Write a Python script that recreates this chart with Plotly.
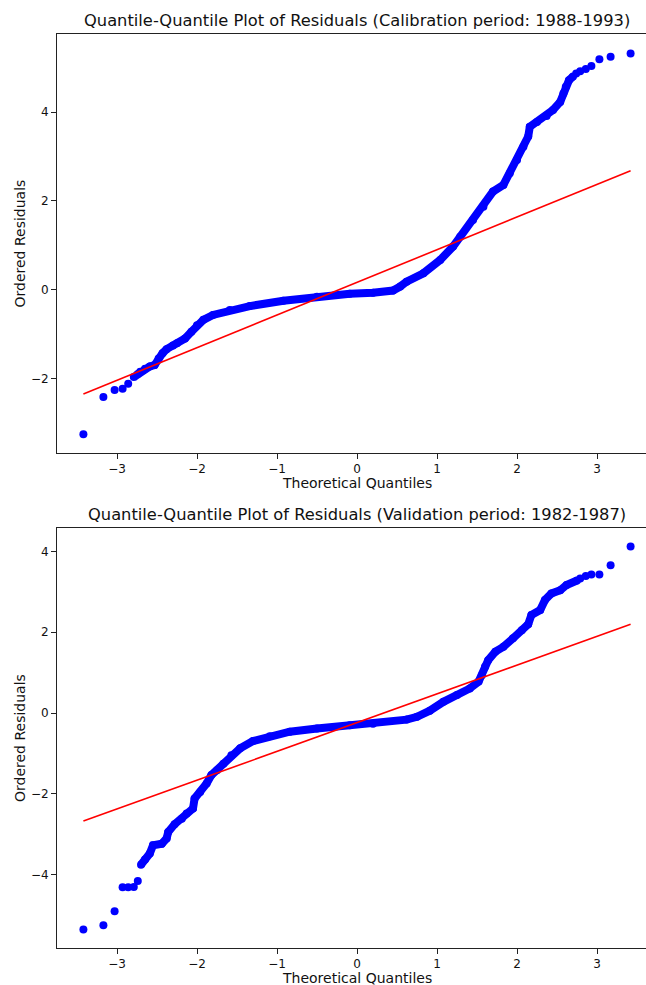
import plotly.graph_objects as go

# ---------------- data ----------------
cal_title = "Quantile-Quantile Plot of Residuals (Calibration period: 1988-1993)"
val_title = "Quantile-Quantile Plot of Residuals (Validation period: 1982-1987)"
x_label = "Theoretical Quantiles"
y_label = "Ordered Residuals"

# Calibration period
cal_tail_low_x = [-3.42, -3.17, -3.03, -2.93, -2.86]
cal_tail_low_y = [-3.26, -2.42, -2.26, -2.23, -2.12]
cal_core_x = [-2.79, -2.74, -2.71, -2.65, -2.59, -2.53, -2.48, -2.43, -2.38, -2.30,
              -2.25, -2.15, -2.07, -2.00, -1.92, -1.80, -1.59, -1.34, -0.92, -0.50,
              -0.09, 0.20, 0.45, 0.54, 0.62, 0.83, 1.04, 1.20, 1.29, 1.45,
              1.58, 1.70, 1.83, 1.91, 2.00, 2.08, 2.14, 2.16, 2.25, 2.37,
              2.45, 2.54, 2.58, 2.61, 2.65, 2.70]
cal_core_y = [-1.97, -1.90, -1.85, -1.78, -1.73, -1.70, -1.55, -1.43, -1.34, -1.26,
              -1.21, -1.10, -0.95, -0.80, -0.68, -0.57, -0.46, -0.37, -0.25, -0.16,
              -0.09, -0.07, -0.02, 0.07, 0.18, 0.37, 0.67, 0.97, 1.19, 1.57,
              1.87, 2.21, 2.36, 2.62, 2.92, 3.22, 3.45, 3.67, 3.78, 3.91,
              4.05, 4.23, 4.42, 4.57, 4.72, 4.80]
cal_tail_high_x = [2.74, 2.79, 2.86, 2.93, 3.03, 3.17, 3.42]
cal_tail_high_y = [4.87, 4.92, 4.97, 5.04, 5.19, 5.25, 5.32]
cal_fit_x = [-3.42, 3.42]
cal_fit_y = [-2.35, 2.68]

# Validation period
val_tail_low_x = [-3.42, -3.17, -3.03, -2.93, -2.86, -2.79, -2.74]
val_tail_low_y = [-5.35, -5.25, -4.90, -4.31, -4.31, -4.30, -4.15]
val_core_x = [-2.70, -2.65, -2.59, -2.55, -2.44, -2.38, -2.36, -2.28, -2.19, -2.13,
              -2.05, -2.03, -1.96, -1.88, -1.82, -1.75, -1.67, -1.57, -1.46, -1.30,
              -1.09, -0.84, -0.50, -0.09, 0.20, 0.62, 0.75, 0.91, 1.08, 1.25,
              1.41, 1.52, 1.56, 1.60, 1.64, 1.73, 1.83, 1.95, 2.06, 2.14,
              2.18, 2.29, 2.35, 2.43, 2.54, 2.62, 2.75]
val_core_y = [-3.75, -3.62, -3.47, -3.27, -3.23, -3.10, -2.94, -2.75, -2.61, -2.48,
              -2.36, -2.11, -1.95, -1.74, -1.53, -1.41, -1.25, -1.04, -0.87, -0.69,
              -0.57, -0.46, -0.38, -0.30, -0.26, -0.16, -0.09, 0.06, 0.28, 0.45,
              0.61, 0.78, 0.94, 1.15, 1.31, 1.52, 1.64, 1.85, 2.05, 2.20,
              2.43, 2.55, 2.80, 2.96, 3.04, 3.17, 3.28]
val_tail_high_x = [2.79, 2.86, 2.93, 3.03, 3.17, 3.42]
val_tail_high_y = [3.33, 3.39, 3.43, 3.43, 3.66, 4.12]
val_fit_x = [-3.42, 3.42]
val_fit_y = [-2.67, 2.20]

x_ticks = [-3, -2, -1, 0, 1, 2, 3]
cal_y_ticks = [-2, 0, 2, 4]
val_y_ticks = [-4, -2, 0, 2, 4]

# ---------------- styles ----------------
BLUE = "#0000ff"
RED = "#ff0000"
MS = 8
FONT = "DejaVu Sans"
TXT = "#111111"

fig = go.Figure()


def add_panel(tl_x, tl_y, core_x, core_y, th_x, th_y, fx, fy, xa, ya):
    fig.add_trace(go.Scatter(x=core_x, y=core_y, mode="lines+markers",
                             line=dict(color=BLUE, width=8),
                             marker=dict(color=BLUE, size=MS),
                             xaxis=xa, yaxis=ya, showlegend=False, hoverinfo="skip"))
    fig.add_trace(go.Scatter(x=tl_x + th_x, y=tl_y + th_y, mode="markers",
                             marker=dict(color=BLUE, size=MS),
                             xaxis=xa, yaxis=ya, showlegend=False, hoverinfo="skip"))
    fig.add_trace(go.Scatter(x=fx, y=fy, mode="lines",
                             line=dict(color=RED, width=1.6),
                             xaxis=xa, yaxis=ya, showlegend=False, hoverinfo="skip"))


add_panel(cal_tail_low_x, cal_tail_low_y, cal_core_x, cal_core_y,
          cal_tail_high_x, cal_tail_high_y, cal_fit_x, cal_fit_y, "x", "y")
add_panel(val_tail_low_x, val_tail_low_y, val_core_x, val_core_y,
          val_tail_high_x, val_tail_high_y, val_fit_x, val_fit_y, "x2", "y2")

W, H = 646, 985
ML, MR, MT, MB = 57, 0, 34, 37
ph = H - MT - MB


def frac(py):
    return (H - MB - py) / ph


top_dom = [frac(453), frac(34)]
bot_dom = [frac(948), frac(528)]

x_range = [-3.75, 3.6125]

axis_common = dict(showgrid=False, zeroline=False, showline=True, linecolor="#222222",
                   linewidth=1, ticks="outside", ticklen=5, tickwidth=1,
                   tickcolor="#222222", tickfont=dict(family=FONT, size=12, color=TXT))

fig.update_layout(
    width=W, height=H,
    margin=dict(l=ML, r=MR, t=MT, b=MB),
    paper_bgcolor="white", plot_bgcolor="white",
    xaxis=dict(domain=[0, 1], anchor="y", range=x_range, tickvals=x_ticks,
               mirror=True, **axis_common),
    yaxis=dict(domain=top_dom, anchor="x", range=[-3.68, 5.76], tickvals=cal_y_ticks,
               **axis_common),
    xaxis2=dict(domain=[0, 1], anchor="y2", range=x_range, tickvals=x_ticks,
                mirror=True, **axis_common),
    yaxis2=dict(domain=bot_dom, anchor="x2", range=[-5.81, 4.58], tickvals=val_y_ticks,
                **axis_common),
)

ann = []
for title, xref, dom in [(cal_title, "x", top_dom), (val_title, "x2", bot_dom)]:
    ann.append(dict(text=title, x=0, xref=xref, y=dom[1], yref="paper",
                    xanchor="center", yanchor="bottom", yshift=2, showarrow=False,
                    font=dict(family=FONT, size=16.3, color=TXT)))
    ann.append(dict(text=x_label, x=0, xref=xref, y=dom[0], yref="paper",
                    xanchor="center", yanchor="middle", yshift=-30, showarrow=False,
                    font=dict(family=FONT, size=14, color=TXT)))
    ann.append(dict(text=y_label, x=0, xref="paper", y=(dom[0] + dom[1]) / 2,
                    yref="paper", xanchor="center", yanchor="middle", xshift=-37,
                    textangle=-90, showarrow=False,
                    font=dict(family=FONT, size=14, color=TXT)))
fig.update_layout(annotations=ann)

fig.write_html("out.html")
